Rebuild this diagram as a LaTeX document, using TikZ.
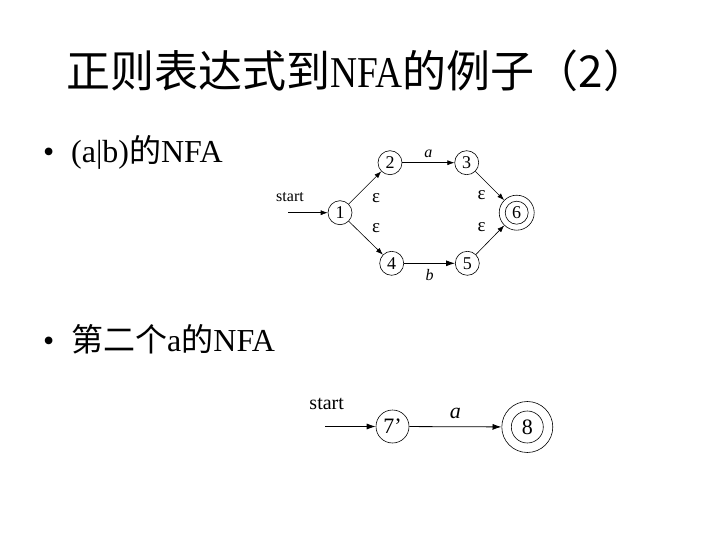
\documentclass[tikz,border=0pt]{standalone}
\usepackage{fontspec}
\setmainfont{Liberation Serif}
\newfontfamily\cjk{Noto Sans CJK SC}
\usetikzlibrary{arrows.meta}
\begin{document}
\begin{tikzpicture}[x=1pt,y=-1pt,
  st/.style={circle,draw,line width=0.6pt,inner sep=0pt,minimum size=24pt,font=\fontsize{18}{18}\selectfont},
  stb/.style={circle,draw,line width=0.6pt,inner sep=0pt,minimum size=33pt,font=\fontsize{22}{22}\selectfont},
  tr/.style={line width=0.6pt,-{Latex[length=7pt,width=5pt]}},
  trb/.style={line width=0.8pt,-{Latex[length=9pt,width=6pt]}},
  lbl/.style={inner sep=0pt,font=\fontsize{16}{16}\selectfont},
  eps/.style={inner sep=0pt,font=\fontsize{19}{19}\selectfont},
  bul/.style={anchor=base west,inner sep=0pt,font=\fontsize{32}{32}\selectfont}]
\useasboundingbox (0,0) rectangle (720,540);
% title
\node[inner sep=0pt,anchor=base] (title) at (357,88) {\fontsize{44}{44}\selectfont\cjk 正则表达式到{\rmfamily\scalebox{0.85}[1]{NFA}}的例子（2）};
% bullets
\node[bul] (d1) at (43,163) {•};
\node[bul] (b1) at (71,163) {(a|b){\cjk 的}NFA};
\node[bul] (d2) at (43,351) {•};
\node[bul] (b2) at (71,351) {{\cjk 第二个}\rmfamily a{\cjk 的}NFA};
% diagram 1
\node[st] (n1) at (340,212.7) {1};
\node[st] (n2) at (390,162.7) {2};
\node[st] (n3) at (466.7,162.7) {3};
\node[st] (n4) at (391.7,263.3) {4};
\node[st] (n5) at (467.3,263.3) {5};
\node[st,minimum size=35pt] (n6) at (516.7,212.7) {6};
\draw[line width=0.6pt] (n6.center) circle (11.5pt);
\node[lbl] (s1) at (290,197) {start};
\coordinate (c1) at (288,212.7);
\draw[tr] (c1) -- (n1);
\draw[tr] (n1) -- (n2);
\draw[tr] (n1) -- (n4);
\draw[tr] (n2) -- node[lbl,above=5pt,font=\fontsize{16}{16}\selectfont\itshape] {a} (n3);
\draw[trb] (n4) -- node[lbl,below=6pt,font=\fontsize{16}{16}\selectfont\itshape] {b} (n5);
\draw[tr] (n3) -- (n6);
\draw[tr] (n5) -- (n6);
\node[eps] (e1) at (376,198) {ε};
\node[eps] (e2) at (376,228) {ε};
\node[eps] (e3) at (481.7,195) {ε};
\node[eps] (e4) at (481.7,227) {ε};
% diagram 2
\node[stb] (n7) at (392.5,426.5) {7’};
\node[stb,minimum size=51pt] (n8) at (527.3,427) {8};
\draw[line width=0.6pt] (n8.center) circle (16pt);
\node[inner sep=0pt,font=\fontsize{20}{20}\selectfont] (s2) at (326.7,404) {start};
\coordinate (c2) at (325,426.5);
\draw[trb] (c2) -- (n7);
\draw[trb] (n7) -- node[inner sep=0pt,above=8pt,font=\fontsize{22}{22}\selectfont\itshape] {a} (n8);
\end{tikzpicture}
\end{document}
